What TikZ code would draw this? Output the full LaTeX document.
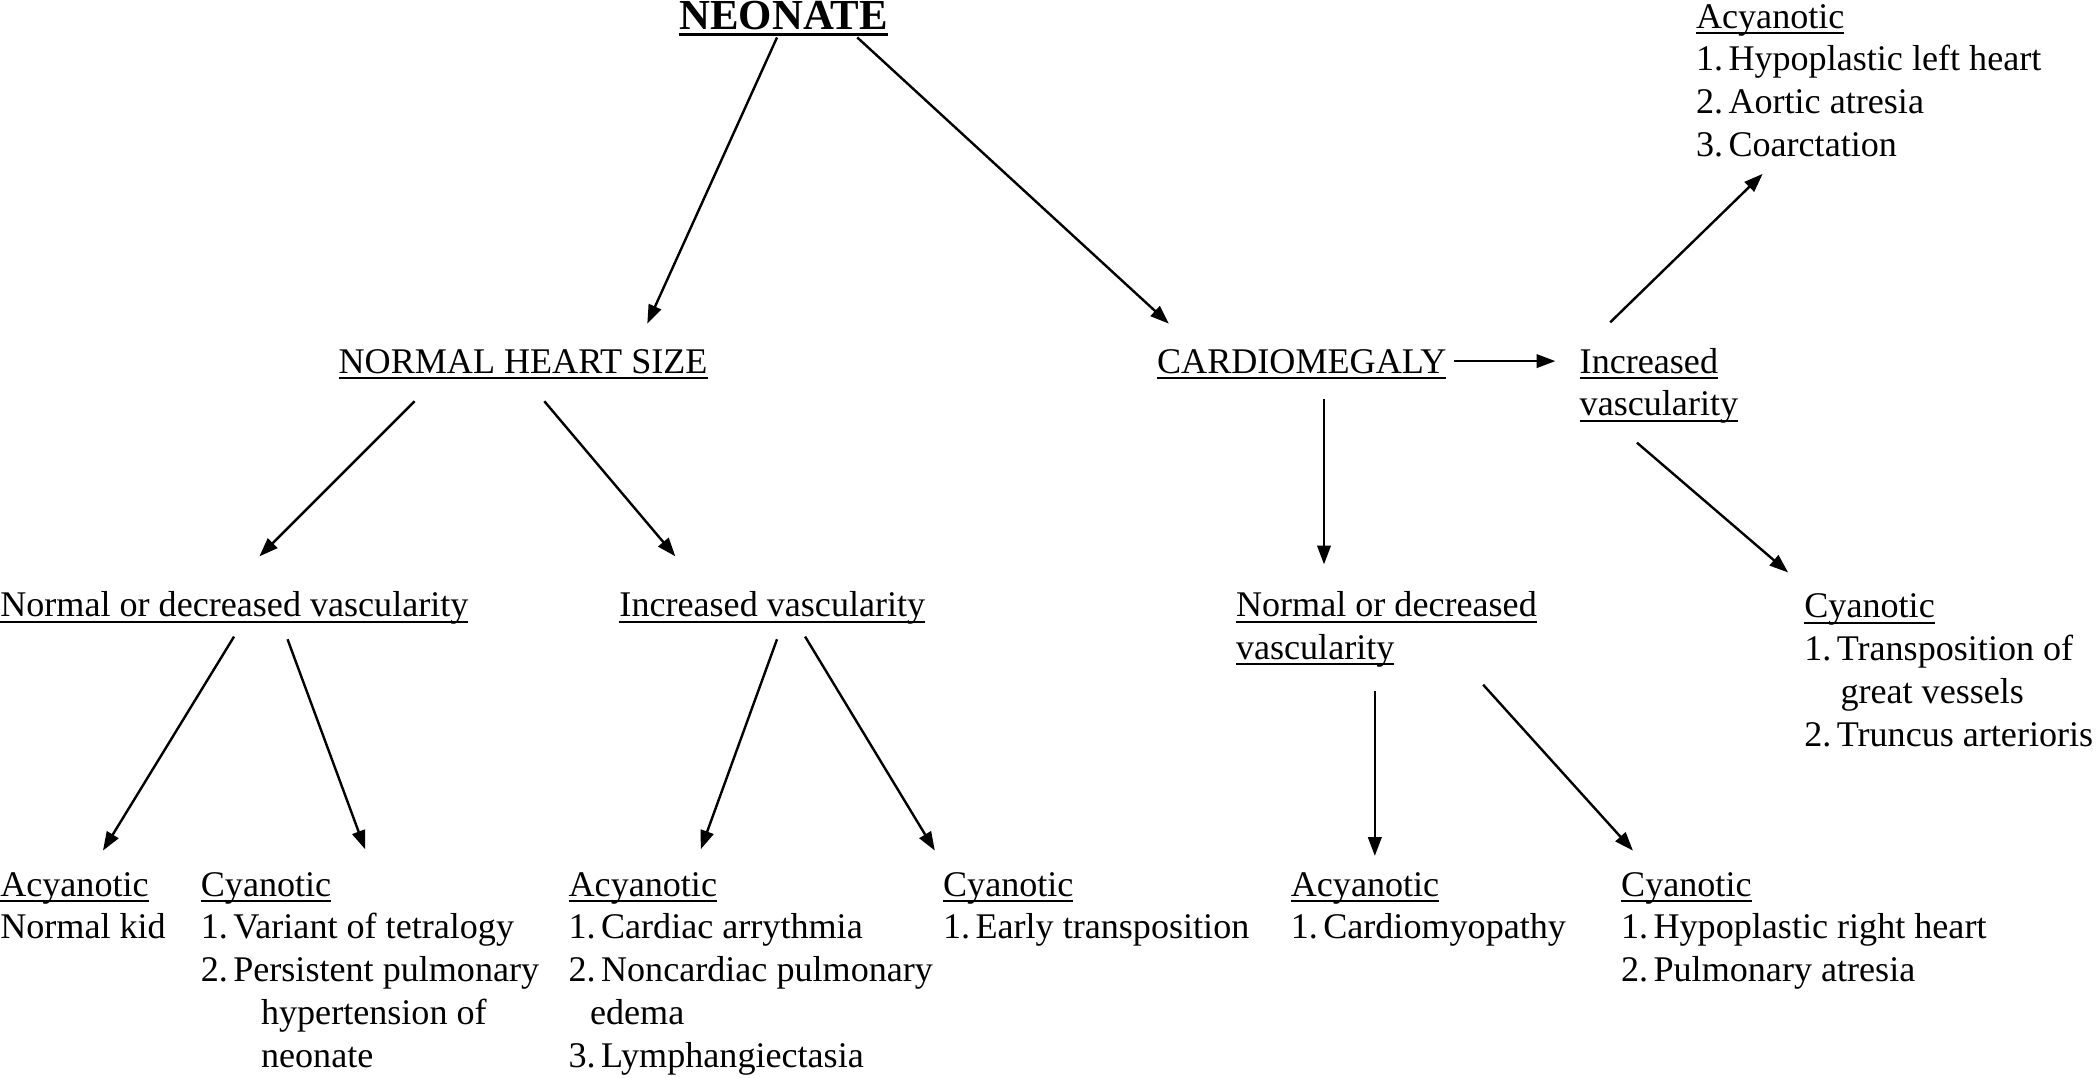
\documentclass[tikz,border=0pt]{standalone}
\usepackage{fontspec}
\setmainfont{Liberation Serif}
\usetikzlibrary{arrows.meta}
\newsavebox\ulbox
\newcommand\ulx[1]{\sbox\ulbox{#1}\rlap{\rule[-4.5pt]{\wd\ulbox}{1.4pt}}\usebox\ulbox}
\newcommand\ulthick[1]{\sbox\ulbox{#1}\rlap{\rule[-5pt]{\wd\ulbox}{2.2pt}}\usebox\ulbox}
\newcommand\lst[1]{\begin{tabular}[t]{@{}l@{}}#1\end{tabular}}
\newcommand\nm[1]{#1.\hspace{4pt}}
\begin{document}
\begin{tikzpicture}[x=1pt,y=-1pt,
  txt/.style={anchor=base west, inner sep=0pt, font=\fontsize{27}{32}\selectfont},
  arr/.style={line width=1.8pt, -{Triangle[length=14pt,width=10pt]}}]
\useasboundingbox[fill=white] (0,0) rectangle (1568,806);

% nodes
\node[anchor=base, inner sep=0pt, font=\fontsize{32}{36}\selectfont\bfseries] (neo) at (586,22) {\ulthick{NEONATE}};
\node[txt] (nhs) at (253,279) {\ulx{NORMAL HEART SIZE}};
\node[txt] (card) at (865,279) {\ulx{CARDIOMEGALY}};
\node[txt] (ivr) at (1181,279) {\lst{\ulx{Increased}\\\ulx{vascularity}}};
\node[txt] (acyt) at (1268,21) {\lst{\ulx{Acyanotic}\\\nm{1}Hypoplastic left heart\\\nm{2}Aortic atresia\\\nm{3}Coarctation}};
\node[txt] (ndvl) at (0,461) {\ulx{Normal or decreased vascularity}};
\node[txt] (ivm) at (463,461) {\ulx{Increased vascularity}};
\node[txt] (ndvr) at (924,461) {\lst{\ulx{Normal or decreased}\\\ulx{vascularity}}};
\node[txt] (cyr) at (1349,462) {\lst{\ulx{Cyanotic}\\\nm{1}Transposition of\\\hspace{27pt}great vessels\\\nm{2}Truncus arterioris}};

\node[txt] (a1) at (0,670) {\lst{\ulx{Acyanotic}\\Normal kid}};
\node[txt] (c1) at (150,670) {\lst{\ulx{Cyanotic}\\\nm{1}Variant of tetralogy\\\nm{2}Persistent pulmonary\\\hspace{45pt}hypertension of\\\hspace{45pt}neonate}};
\node[txt] (a2) at (425,670) {\lst{\ulx{Acyanotic}\\\nm{1}Cardiac arrythmia\\\nm{2}Noncardiac pulmonary\\\hspace{16pt}edema\\\nm{3}Lymphangiectasia}};
\node[txt] (c2) at (705,670) {\lst{\ulx{Cyanotic}\\\nm{1}Early transposition}};
\node[txt] (a3) at (965,670) {\lst{\ulx{Acyanotic}\\\nm{1}Cardiomyopathy}};
\node[txt] (c3) at (1212,670) {\lst{\ulx{Cyanotic}\\\nm{1}Hypoplastic right heart\\\nm{2}Pulmonary atresia}};

% connector end points
\coordinate (neoL) at (581,28);   \coordinate (nhsT) at (484,242);
\coordinate (neoR) at (641,28);   \coordinate (cardT) at (874,242);
\coordinate (cardR) at (1087,270); \coordinate (ivrL) at (1163,270);
\coordinate (ivrT) at (1204,241); \coordinate (acytB) at (1318,130);
\coordinate (ivrB) at (1224,331); \coordinate (cyrT) at (1337,428);
\coordinate (cardB) at (990,298); \coordinate (ndvrT) at (990,422);
\coordinate (nhsBL) at (310,300); \coordinate (ndvlT) at (194,416);
\coordinate (nhsBR) at (407,300); \coordinate (ivmT) at (505,416);
\coordinate (ndvlBL) at (175,476); \coordinate (a1T) at (77,636);
\coordinate (ndvlBR) at (215,478); \coordinate (c1T) at (273,635);
\coordinate (ivmBL) at (581,478); \coordinate (a2T) at (524,635);
\coordinate (ivmBR) at (602,476); \coordinate (c2T) at (699,636);
\coordinate (ndvrBL) at (1028,517); \coordinate (a3T) at (1028,640);
\coordinate (ndvrBR) at (1109,512); \coordinate (c3T) at (1221,636);

\draw[arr] (neoL) -- (nhsT);
\draw[arr] (neoR) -- (cardT);
\draw[arr] (cardR) -- (ivrL);
\draw[arr] (ivrT) -- (acytB);
\draw[arr] (ivrB) -- (cyrT);
\draw[arr] (cardB) -- (ndvrT);
\draw[arr] (nhsBL) -- (ndvlT);
\draw[arr] (nhsBR) -- (ivmT);
\draw[arr] (ndvlBL) -- (a1T);
\draw[arr] (ndvlBR) -- (c1T);
\draw[arr] (ivmBL) -- (a2T);
\draw[arr] (ivmBR) -- (c2T);
\draw[arr] (ndvrBL) -- (a3T);
\draw[arr] (ndvrBR) -- (c3T);
\end{tikzpicture}
\end{document}
